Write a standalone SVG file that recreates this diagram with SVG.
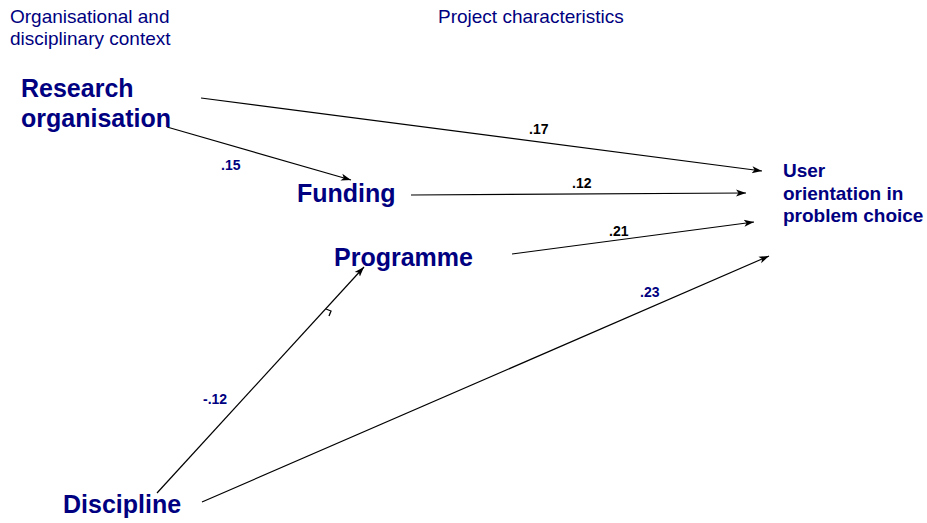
<svg xmlns="http://www.w3.org/2000/svg" width="927" height="523" viewBox="0 0 927 523">
  <defs>
    <marker id="arrow" viewBox="0 0 10 10" refX="10" refY="5" markerWidth="10" markerHeight="10" markerUnits="userSpaceOnUse" orient="auto">
      <path d="M0,1.5 L10,5 L0,8.5 L2.5,5 Z" fill="#000"/>
    </marker>
  </defs>
  <style>
    text { font-family: "Liberation Sans", Arial, sans-serif; }
    .head { font-size: 19px; fill: #000080; }
    .node { font-size: 25px; font-weight: bold; fill: #000080; }
    .node-sm { font-size: 19px; font-weight: bold; fill: #000080; }
    .coef { font-size: 14px; font-weight: bold; }
    .coef-k { fill: #000; }
    .coef-b { fill: #000080; }
    .edge { stroke: #000; stroke-width: 1.2; fill: none; marker-end: url(#arrow); }
  </style>
  <rect width="927" height="523" fill="#fff"/>

  <!-- column headings -->
  <g id="headings">
    <text class="head" x="10" y="23">Organisational and</text>
    <text class="head" x="10" y="45">disciplinary context</text>
    <text class="head" x="438" y="23">Project characteristics</text>
  </g>

  <!-- connectors -->
  <g id="connectors">
    <line class="edge" x1="201" y1="98" x2="762" y2="171"/>
    <line class="edge" x1="167" y1="127" x2="351" y2="180"/>
    <line class="edge" x1="411" y1="195" x2="746" y2="193"/>
    <line class="edge" x1="512" y1="254" x2="754" y2="222"/>
    <line class="edge" x1="202" y1="502" x2="769" y2="256"/>
    <line class="edge" x1="157" y1="493" x2="364" y2="267"/>
    <path d="M326,309 L331,311 L329,316" stroke="#000" stroke-width="1.3" fill="none"/>
  </g>

  <!-- path coefficients -->
  <g id="coefficients">
    <text class="coef coef-k" x="529" y="134">.17</text>
    <text class="coef coef-b" x="221" y="170">.15</text>
    <text class="coef coef-k" x="572" y="188">.12</text>
    <text class="coef coef-k" x="609" y="236">.21</text>
    <text class="coef coef-b" x="640" y="297">.23</text>
    <text class="coef coef-b" x="203" y="404">-.12</text>
  </g>

  <g id="research-organisation">
    <text class="node" x="21" y="97">Research</text>
    <text class="node" x="21" y="127">organisation</text>
  </g>
  <g id="funding">
    <text class="node" x="297" y="202">Funding</text>
  </g>
  <g id="programme">
    <text class="node" x="334" y="266">Programme</text>
  </g>
  <g id="discipline">
    <text class="node" x="63" y="513">Discipline</text>
  </g>
  <g id="user-orientation">
    <text class="node-sm" x="783" y="177">User</text>
    <text class="node-sm" x="783" y="200">orientation in</text>
    <text class="node-sm" x="783" y="222">problem choice</text>
  </g>
</svg>
